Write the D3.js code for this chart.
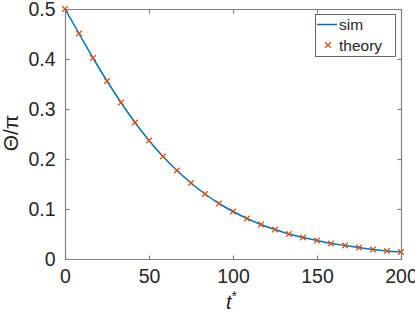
<!DOCTYPE html>
<html>
<head>
<meta charset="utf-8">
<script src="https://cdn.jsdelivr.net/npm/d3@7"></script>
<style>
  html, body { margin: 0; padding: 0; background: #fff; }
  svg { display: block; }
  text { font-family: "Liberation Sans", Arial, Helvetica, sans-serif; fill: #262626; }
</style>
</head>
<body>
<svg id="chart" width="415" height="312"></svg>
<script>
// ---- data ----
const tValues = [0, 8.33, 16.67, 25, 33.33, 41.67, 50, 58.33, 66.67, 75, 83.33, 91.67, 100,
                 108.33, 116.67, 125, 133.33, 141.67, 150, 158.33, 166.67, 175, 183.33, 191.67, 200];
const theoryValues = [0.500, 0.451, 0.402, 0.356, 0.313, 0.273, 0.237, 0.205, 0.177, 0.152, 0.130, 0.111, 0.095,
                      0.081, 0.069, 0.059, 0.050, 0.043, 0.037, 0.031, 0.027, 0.023, 0.019, 0.016, 0.014];
const simValues = [0.500, 0.451, 0.402, 0.356, 0.313, 0.273, 0.237, 0.205, 0.177, 0.152, 0.130, 0.111, 0.095,
                   0.081, 0.069, 0.059, 0.050, 0.043, 0.037, 0.031, 0.027, 0.023, 0.019, 0.016, 0.014];
const xTicks = [0, 50, 100, 150, 200];
const yTicks = [0, 0.1, 0.2, 0.3, 0.4, 0.5];
const yTickLabels = ["0", "0.1", "0.2", "0.3", "0.4", "0.5"];
const seriesNames = ["sim", "theory"];

// ---- layout ----
const svg = d3.select("#chart");
const L = 65, R = 401, T = 9, B = 259;
const axisColor = "#808080";
const blue = "#0072BD", orange = "#D95319";

const x = d3.scaleLinear().domain([0, 200]).range([L, R]);
const y = d3.scaleLinear().domain([0, 0.5]).range([B, T]);

const tickLen = 4;
const g = svg.append("g");

const xAxis = d3.axisBottom(x).tickValues(xTicks).tickSize(-tickLen).tickPadding(10).tickFormat(d3.format("d"));
const gx = g.append("g").attr("transform", `translate(0,${B + 0.5})`).call(xAxis);
const gxt = g.append("g").attr("transform", `translate(0,${T + 0.5})`)
  .call(d3.axisTop(x).tickValues(xTicks).tickSize(-tickLen).tickFormat(""));
const yAxis = d3.axisLeft(y).tickValues(yTicks).tickSize(-tickLen).tickPadding(10)
  .tickFormat((d, i) => yTickLabels[i]);
const gy = g.append("g").attr("transform", `translate(${L + 0.5},0)`).call(yAxis);
const gyr = g.append("g").attr("transform", `translate(${R + 0.5},0)`)
  .call(d3.axisRight(y).tickValues(yTicks).tickSize(-tickLen).tickFormat(""));

[gx, gxt, gy, gyr].forEach(a => {
  a.selectAll(".domain").attr("stroke", axisColor).attr("stroke-width", 1.2);
  a.selectAll(".tick line").attr("stroke", axisColor).attr("stroke-width", 1.2);
  a.selectAll(".tick text").attr("fill", "#262626").style("font-size", "19.5px")
    .style("font-family", "'Liberation Sans', Arial, sans-serif");
});
gx.selectAll(".domain").attr("d", `M${L},0H${R + 1}`);
gxt.selectAll(".domain").attr("d", `M${L},0H${R + 1}`);
gy.selectAll(".domain").attr("d", `M0,${T}V${B + 1}`);
gyr.selectAll(".domain").attr("d", `M0,${T}V${B + 1}`);

// sim line
const line = d3.line().x((d, i) => x(tValues[i])).y(d => y(d)).curve(d3.curveMonotoneX);
svg.append("path").datum(simValues)
  .attr("d", line).attr("fill", "none").attr("stroke", blue).attr("stroke-width", 1.5);

// theory markers (x)
const ms = 2.8;
const mk = svg.append("g");
theoryValues.forEach((v, i) => {
  const cx = x(tValues[i]), cy = y(v);
  mk.append("path")
    .attr("d", `M${cx - ms},${cy - ms}L${cx + ms},${cy + ms}M${cx - ms},${cy + ms}L${cx + ms},${cy - ms}`)
    .attr("stroke", orange).attr("stroke-width", 1.3).attr("fill", "none");
});

// axis labels
svg.append("text").attr("x", 226).attr("y", 309).attr("text-anchor", "start")
  .style("font-size", "20px").style("font-style", "italic").text("t")
  .append("tspan").attr("dy", -8).style("font-size", "14px").style("font-style", "normal").text("*");

svg.append("text").attr("transform", "translate(18,133) rotate(-90)").attr("text-anchor", "middle")
  .style("font-size", "21px").text("Θ/π");

// legend
const lg = svg.append("g");
lg.append("rect").attr("x", 315.5).attr("y", 14.5).attr("width", 80).attr("height", 42)
  .attr("fill", "#fff").attr("stroke", "#404040").attr("stroke-width", 0.8);
lg.append("line").attr("x1", 317).attr("x2", 337).attr("y1", 24.5).attr("y2", 24.5)
  .attr("stroke", blue).attr("stroke-width", 1.5);
lg.append("text").attr("x", 339).attr("y", 30).style("font-size", "15.5px").text(seriesNames[0]);
const lx = 328, ly = 45;
lg.append("path")
  .attr("d", `M${lx - ms},${ly - ms}L${lx + ms},${ly + ms}M${lx - ms},${ly + ms}L${lx + ms},${ly - ms}`)
  .attr("stroke", orange).attr("stroke-width", 1.3);
lg.append("text").attr("x", 339).attr("y", 50.5).style("font-size", "15.5px").text(seriesNames[1]);
</script>
</body>
</html>
